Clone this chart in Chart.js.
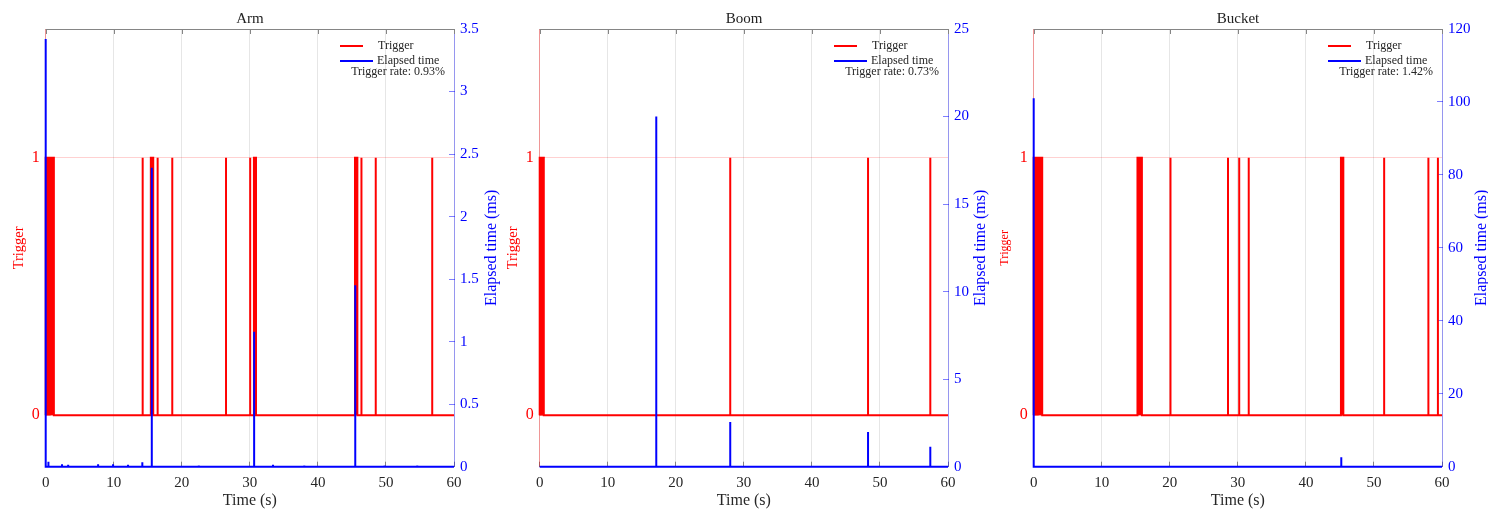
<!DOCTYPE html>
<html>
<head>
<meta charset="utf-8">
<script src="https://cdn.jsdelivr.net/npm/chart.js@4.4.1/dist/chart.umd.min.js"></script>
<style>
  html, body { margin: 0; padding: 0; background: #fff; width: 1501px; height: 518px; overflow: hidden; }
  .panel { position: absolute; top: 0; width: 500px; height: 518px; }
</style>
</head>
<body>
<div class="panel" style="left:0px"><canvas id="armChart"></canvas></div>
<div class="panel" style="left:494px"><canvas id="boomChart"></canvas></div>
<div class="panel" style="left:988px"><canvas id="bucketChart"></canvas></div>
<script>
// shared axes
const timeTicks = [0, 10, 20, 30, 40, 50, 60];
const triggerTicks = [0, 1];

// Arm
const armTriggerStart = [0, 14.25, 15.45, 16.45, 18.6, 26.5, 30.05, 30.6, 45.45, 46.4, 48.5, 56.8];
const armTriggerEnd   = [1.2, 14.25, 15.8, 16.45, 18.6, 26.5, 30.05, 30.9, 45.8, 46.4, 48.5, 56.8];
const armElapsedTime  = [0, 0.4, 2.4, 3.3, 7.7, 9.9, 12.1, 14.2, 15.59, 22.5, 30.63, 33.4, 38.0, 45.49, 49.8, 54.6];
const armElapsedValue = [3.42, 0.04, 0.02, 0.015, 0.02, 0.02, 0.015, 0.035, 2.39, 0.01, 1.08, 0.015, 0.01, 1.45, 0.01, 0.01];
const armElapsedTicks = [0, 0.5, 1, 1.5, 2, 2.5, 3, 3.5];

// Boom
const boomTriggerStart = [0, 28.0, 48.25, 57.4];
const boomTriggerEnd   = [0.6, 28.0, 48.25, 57.4];
const boomElapsedTime  = [17.13, 28.0, 48.25, 57.4];
const boomElapsedValue = [20.0, 2.55, 1.98, 1.14];
const boomElapsedTicks = [0, 5, 10, 15, 20, 25];

// Bucket
const bucketTriggerStart = [0, 15.25, 20.1, 28.55, 30.2, 31.6, 45.15, 51.5, 58.0, 59.4];
const bucketTriggerEnd   = [1.25, 15.9, 20.1, 28.55, 30.2, 31.6, 45.5, 51.5, 58.0, 59.4];
const bucketElapsedTime  = [0, 45.2];
const bucketElapsedValue = [101, 2.6];
const bucketElapsedTicks = [0, 20, 40, 60, 80, 100, 120];

const triggerRates = ["0.93%", "0.73%", "1.42%"];

const SERIF = "'Liberation Serif', 'DejaVu Serif', serif";
const RED = "#ff0000";
const BLUE = "#0000ff";

function triggerPoints(starts, ends) {
  const pts = [{ x: 0, y: 0 }];
  starts.forEach((s, i) => {
    pts.push({ x: s, y: 0 }, { x: s, y: 1 }, { x: ends[i], y: 1 }, { x: ends[i], y: 0 });
  });
  pts.push({ x: 60, y: 0 });
  return pts;
}

function elapsedPoints(times, values) {
  const pts = [{ x: 0, y: 0 }];
  times.forEach((t, i) => {
    pts.push({ x: t, y: 0 }, { x: t, y: values[i] }, { x: t, y: 0 });
  });
  pts.push({ x: 60, y: 0 });
  return pts;
}

// box top edge, legend in the corner, right axis title read bottom-to-top
const decorations = {
  id: "decorations",
  afterDraw(chart, args, opts) {
    const { ctx, chartArea: a } = chart;
    const xs = chart.scales.x;
    ctx.save();
    ctx.strokeStyle = "#858585";
    ctx.lineWidth = 1;
    ctx.beginPath();
    ctx.moveTo(a.left, Math.round(a.top) + 0.5);
    ctx.lineTo(a.right, Math.round(a.top) + 0.5);
    timeTicks.forEach(v => {
      const px = Math.round(xs.getPixelForValue(v)) + 0.5;
      ctx.moveTo(px, a.top);
      ctx.lineTo(px, a.top + 5);
    });
    ctx.stroke();

    // legend
    const ds = chart.data.datasets;
    ctx.font = "12px " + SERIF;
    ctx.textBaseline = "middle";
    ctx.fillStyle = "#262626";
    ctx.lineWidth = 2;
    ctx.strokeStyle = ds[1].borderColor;
    ctx.beginPath();
    ctx.moveTo(a.right - 114, a.top + 17);
    ctx.lineTo(a.right - 91, a.top + 17);
    ctx.stroke();
    ctx.textAlign = "left";
    ctx.fillText(ds[1].label, a.right - 76, a.top + 17);
    ctx.strokeStyle = ds[0].borderColor;
    ctx.beginPath();
    ctx.moveTo(a.right - 114, a.top + 32);
    ctx.lineTo(a.right - 81, a.top + 32);
    ctx.stroke();
    ctx.fillText(ds[0].label, a.right - 77, a.top + 32);
    ctx.textAlign = "right";
    ctx.fillText("Trigger rate: " + opts.rate, a.right - 9, a.top + 43);

    // right axis title
    ctx.translate(chart.scales.y2.right - opts.titleOffset, (a.top + a.bottom) / 2);
    ctx.rotate(-Math.PI / 2);
    ctx.textAlign = "center";
    ctx.fillStyle = BLUE;
    ctx.font = "16px " + SERIF;
    ctx.fillText("Elapsed time (ms)", 0, 0);
    ctx.restore();
  }
};

function makeChart(id, name, trigStart, trigEnd, elT, elV, elTicks, rate, trigTitleSize, titleOffset) {
  const ctx = document.getElementById(id).getContext("2d");
  return new Chart(ctx, {
    type: "line",
    data: {
      datasets: [
        {
          label: "Elapsed time",
          data: elapsedPoints(elT, elV),
          borderColor: BLUE,
          borderWidth: 2,
          pointRadius: 0,
          yAxisID: "y2",
          order: 0,
          clip: { left: 2, right: 2, top: 0, bottom: 2 },
        },
        {
          label: "Trigger",
          data: triggerPoints(trigStart, trigEnd),
          borderColor: RED,
          backgroundColor: RED,
          borderWidth: 2,
          pointRadius: 0,
          fill: "origin",
          yAxisID: "y",
          order: 1,
          clip: { left: 2, right: 2, top: 0, bottom: 2 },
        },
      ],
    },
    options: {
      responsive: true,
      maintainAspectRatio: false,
      animation: false,
      layout: { padding: 0 },
      scales: {
        x: {
          type: "linear",
          min: 0,
          max: 60,
          afterBuildTicks: s => { s.ticks = timeTicks.map(v => ({ value: v })); },
          afterFit: s => { s.height = 51.3; },
          grid: { color: "#e6e6e6", tickColor: "#858585", tickLength: -5 },
          border: { color: "#858585" },
          ticks: { color: "#262626", padding: 12, maxRotation: 0, font: { family: SERIF, size: 15 } },
          title: { display: true, text: "Time (s)", color: "#262626", padding: { bottom: 8 }, font: { family: SERIF, size: 16 } },
        },
        y: {
          position: "left",
          min: -0.2,
          max: 1.5,
          afterBuildTicks: s => { s.ticks = triggerTicks.map(v => ({ value: v })); },
          afterFit: s => { s.width = 45.7; },
          grid: { color: "rgba(255,0,0,0.18)", tickColor: "rgba(255,0,0,0.4)", tickLength: -5 },
          border: { color: "rgba(255,0,0,0.35)" },
          ticks: { color: RED, padding: 11, font: { family: SERIF, size: 16 } },
          title: { display: true, text: "Trigger", color: RED, padding: { top: 10 }, font: { family: SERIF, size: trigTitleSize } },
        },
        y2: {
          position: "right",
          min: 0,
          max: elTicks[elTicks.length - 1],
          afterBuildTicks: s => { s.ticks = elTicks.map(v => ({ value: v })); },
          afterFit: s => { s.width = 46; },
          grid: { drawOnChartArea: false, tickColor: "rgba(0,0,255,0.5)", tickLength: -5 },
          border: { color: "rgba(0,0,255,0.35)" },
          ticks: { color: BLUE, padding: 11, font: { family: SERIF, size: 15 }, callback: v => String(v) },
        },
      },
      plugins: {
        legend: { display: false },
        tooltip: { enabled: false },
        title: { display: true, text: name, color: "#222", padding: { top: 10, bottom: 1 }, font: { family: SERIF, size: 15, weight: "normal" } },
        decorations: { rate: rate, titleOffset: titleOffset },
      },
    },
    plugins: [decorations],
  });
}

makeChart("armChart", "Arm", armTriggerStart, armTriggerEnd, armElapsedTime, armElapsedValue, armElapsedTicks, triggerRates[0], 14.5, 8.3);
makeChart("boomChart", "Boom", boomTriggerStart, boomTriggerEnd, boomElapsedTime, boomElapsedValue, boomElapsedTicks, triggerRates[1], 14.5, 13);
makeChart("bucketChart", "Bucket", bucketTriggerStart, bucketTriggerEnd, bucketElapsedTime, bucketElapsedValue, bucketElapsedTicks, triggerRates[2], 12, 6.3);
</script>
</body>
</html>
